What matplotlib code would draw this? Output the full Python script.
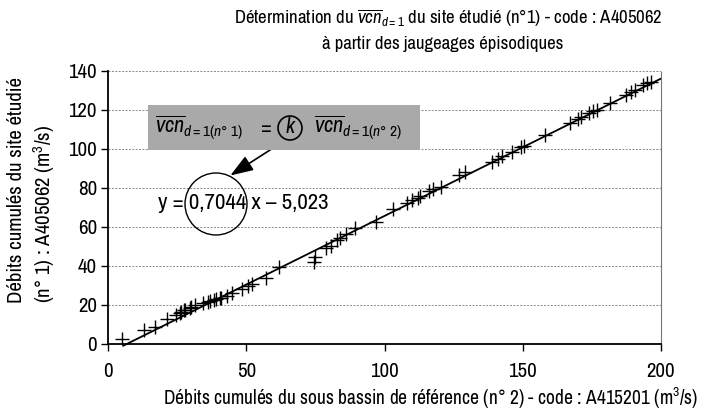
import matplotlib
matplotlib.use("Agg")
import matplotlib.pyplot as plt
from matplotlib.patches import Ellipse, Rectangle
from matplotlib import font_manager

# police étroite si disponible
fichiers = [f for f in font_manager.fontManager.ttflist]
narrow = [f for f in fichiers if 'Narrow' in f.name]
if narrow:
    fam = narrow[0].name
else:
    fam = 'Liberation Sans'
plt.rcParams['font.family'] = [fam, 'DejaVu Sans']
plt.rcParams['mathtext.fontset'] = 'custom'
plt.rcParams['mathtext.rm'] = fam
plt.rcParams['mathtext.it'] = fam + ':italic'

#____données (débits cumulés)
x_ref = [5, 13, 17, 21.5, 24.5, 26, 26.5, 27.5, 28, 29.5, 30, 31.5, 34.5, 36,
         37, 38.5, 39, 40.5, 41, 43, 45, 48.5, 50.5, 52, 57, 62, 74.5, 75,
         79, 80.5, 83, 84, 86, 89.5, 97, 103, 108, 110, 112, 113, 116, 117.5,
         120.5, 127, 129, 139, 141, 142.5, 146, 149.5, 150.5, 158, 167, 170,
         171, 174, 175.5, 177, 181.5, 187.5, 189, 190.5, 193.5, 195, 196.5]
y_site = [2.5, 7, 8.5, 12.5, 14.5, 15.5, 16, 17, 17, 18, 18.5, 19.5, 21, 21.5,
          22, 22.5, 23, 23.5, 23.5, 24.5, 26, 28, 29.5, 30.5, 33.5, 39, 42, 44.5,
          49, 50, 53, 54, 56, 59, 62.5, 69, 72, 73.5, 74.5, 75.5, 78, 79,
          80.5, 86.5, 88, 93, 94.5, 96, 98, 101, 101.5, 107, 113, 115,
          116, 118, 119, 120, 123.5, 127.5, 129, 130, 132.5, 133.5, 134]
pente = 0.7044
ordonnee = -5.023
x_ligne = [5.5, 200]

fig = plt.figure(figsize=(7.05, 4.2), dpi=100)
ax = fig.add_axes([108/705, 1-343.5/420, 553/705, 273/420])

ax.plot(x_ref, y_site, '+', color='k', markersize=10, mew=1.0)
y_ligne = [pente*v + ordonnee for v in x_ligne]
ax.plot(x_ligne, y_ligne, color='k', lw=1.3, clip_on=False)

ax.set_xlim(0, 200)
ax.set_ylim(0, 140)
ax.set_xticks([0, 50, 100, 150, 200])
ax.set_yticks(range(0, 141, 20))
ax.yaxis.grid(True, color='#888888', lw=0.7, ls=(0, (2, 1.5)))
ax.set_axisbelow(True)
ax.tick_params(axis='both', labelsize=15, direction='out', length=5, width=1, colors='k')
ax.tick_params(axis='x', pad=8)
ax.tick_params(axis='y', pad=3)
ax.spines['top'].set_visible(False)
ax.spines['right'].set_color('#777777')
ax.spines['right'].set_linestyle((0, (1, 1)))
ax.spines['left'].set_linewidth(1.3)
ax.spines['bottom'].set_linewidth(1.3)

#____textes
fig.text(448/705, 1-18/420, r'Détermination du $\overline{vcn}_{d=1}$ du site étudié (n°1) - code : A405062',
         ha='center', va='center', fontsize=13.5)
fig.text(443/705, 1-44/420, 'à partir des jaugeages épisodiques', ha='center', va='center', fontsize=13.5)
fig.text(431/705, 1-398/420,
         r'Débits cumulés du sous bassin de référence (n° 2) - code : A415201 (m$^3$/s)',
         ha='center', va='center', fontsize=14)
fig.text(32/705, 1-303/420, 'Débits cumulés du site étudié\n(n° 1) : A405062 (m$^3$/s)',
         ha='center', va='bottom', rotation=90, fontsize=15, linespacing=1.3,
         multialignment='left')

#____encadré gris
fig.add_artist(Rectangle((148/705, 1-150/420), 272/705, 45/420, transform=fig.transFigure,
                         facecolor='#a9a9a9', edgecolor='none'))
fig.text(155/705, 1-128/420, r'$\overline{vcn}_{d=1(n°\ 1)}$', ha='left', va='center',
         fontsize=16, style='italic')
fig.text(266/705, 1-128/420, '=', ha='center', va='center', fontsize=16)
fig.text(290/705, 1-127/420, 'k', ha='center', va='center', fontsize=16, style='italic')
fig.add_artist(Ellipse((290/705, 1-128/420), 24/705, 24/420, transform=fig.transFigure,
                       facecolor='none', edgecolor='k', lw=1.2))
fig.text(314/705, 1-128/420, r'$\overline{vcn}_{d=1(n°\ 2)}$', ha='left', va='center',
         fontsize=16, style='italic')

#____équation et flèche
fig.text(158/705, 1-203/420, 'y = 0,7044 x – 5,023', ha='left', va='center', fontsize=16.5)
fig.add_artist(Ellipse((216/705, 1-204/420), 62/705, 62/420, transform=fig.transFigure,
                       facecolor='none', edgecolor='k', lw=1.0))
ax.annotate('', xy=(228/705, 1-177/420), xycoords='figure fraction',
            xytext=(284/705, 1-141/420), textcoords='figure fraction',
            arrowprops=dict(arrowstyle='-|>,head_length=1.4,head_width=0.5', color='k', lw=1.2))

plt.savefig('out.png', dpi=100)
